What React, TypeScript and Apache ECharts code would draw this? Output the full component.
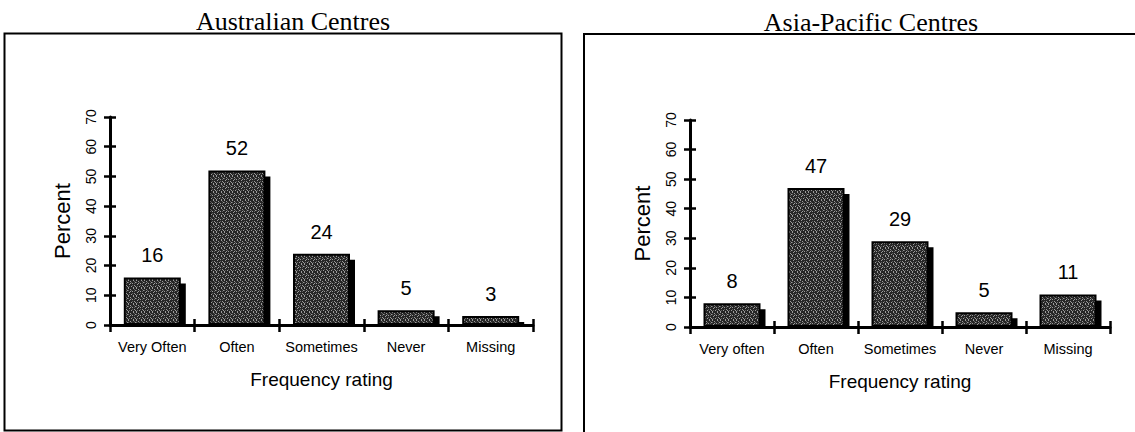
import React, { useEffect, useRef } from "react";
import * as echarts from "echarts";

const categoriesAU = ["Very Often", "Often", "Sometimes", "Never", "Missing"];
const valuesAU = [16, 52, 24, 5, 3];
const categoriesAP = ["Very often", "Often", "Sometimes", "Never", "Missing"];
const valuesAP = [8, 47, 29, 5, 11];
const titles = ["Australian Centres", "Asia-Pacific Centres"];
const yMin = 0;
const yMax = 70;
const yInterval = 10;
const yName = "Percent";
const xName = "Frequency rating";

const SANS = "'Liberation Sans', Arial, sans-serif";
const SERIF = "'Liberation Serif', 'Times New Roman', serif";

function makeStipple(): HTMLCanvasElement {
  const c = document.createElement("canvas");
  c.width = 8;
  c.height = 8;
  const ctx = c.getContext("2d")!;
  ctx.fillStyle = "#262626";
  ctx.fillRect(0, 0, 8, 8);
  ctx.fillStyle = "#9c9c9c";
  const dots = [
    [0, 0], [5, 0], [2, 1], [7, 2], [4, 3], [1, 4], [6, 5], [3, 6], [0, 7], [5, 7], [2, 3], [7, 6],
  ];
  dots.forEach(([x, y]) => ctx.fillRect(x, y, 1, 1));
  ctx.fillStyle = "#5e5e5e";
  const mids = [[3, 2], [6, 1], [1, 6], [4, 5], [0, 2], [6, 3]];
  mids.forEach(([x, y]) => ctx.fillRect(x, y, 1, 1));
  return c;
}

export default function App() {
  const ref = useRef<HTMLDivElement>(null);
  useEffect(() => {
    if (!ref.current) return;
    const chart = echarts.init(ref.current, null, { renderer: "svg" });
    const stipple = makeStipple();
    const grids = [
      { left: 110, top: 117, width: 423, height: 208 },
      { left: 690, top: 120, width: 420, height: 207 },
    ];
    const cats = [categoriesAU, categoriesAP];
    const vals = [valuesAU, valuesAP];

    const xAxes: any[] = [];
    const yAxes: any[] = [];
    const series: any[] = [];
    const graphics: any[] = [
      {
        type: "rect",
        shape: { x: 4.5, y: 33.5, width: 557, height: 397 },
        style: { fill: "none", stroke: "#000", lineWidth: 2 },
        z: 1,
      },
      {
        type: "rect",
        shape: { x: 584, y: 34, width: 600, height: 420 },
        style: { fill: "none", stroke: "#000", lineWidth: 2 },
        z: 1,
      },
    ];

    grids.forEach((g, i) => {
      xAxes.push({
        type: "category",
        gridIndex: i,
        position: "bottom",
        data: cats[i],
        z: 3,
        axisLine: { show: true, onZero: false, lineStyle: { color: "#000", width: 3 } },
        axisTick: { show: true, length: 7, lineStyle: { color: "#000", width: 2.5 } },
        axisLabel: { color: "#000", fontSize: 14.5, fontFamily: SANS, margin: 14, interval: 0 },
        name: xName,
        nameLocation: "middle",
        nameGap: 45,
        nameTextStyle: { color: "#000", fontSize: 19, fontFamily: SANS },
      });
      xAxes.push({
        type: "category",
        gridIndex: i,
        position: "bottom",
        data: cats[i],
        z: 3,
        axisLine: { show: false, onZero: false },
        axisTick: { show: true, inside: true, length: 6, lineStyle: { color: "#000", width: 2.5 } },
        axisLabel: { show: false },
      });
      yAxes.push({
        type: "value",
        gridIndex: i,
        position: "left",
        min: yMin,
        max: yMax,
        interval: yInterval,
        z: 3,
        splitLine: { show: false },
        axisLine: { show: true, onZero: false, lineStyle: { color: "#000", width: 3 } },
        axisTick: { show: true, length: 6, lineStyle: { color: "#000", width: 2.5 } },
        axisLabel: {
          color: "#000",
          fontSize: 14,
          fontFamily: SANS,
          rotate: 90,
          margin: 12,
        },
        name: yName,
        nameLocation: "middle",
        nameGap: 37,
        nameTextStyle: { color: "#000", fontSize: 22, fontFamily: SANS },
      });
      yAxes.push({
        type: "value",
        gridIndex: i,
        position: "left",
        min: yMin,
        max: yMax,
        interval: yInterval,
        z: 3,
        splitLine: { show: false },
        axisLine: { show: false, onZero: false },
        axisTick: { show: true, inside: true, length: 6, lineStyle: { color: "#000", width: 2.5 } },
        axisLabel: { show: false },
      });
      series.push({
        type: "bar",
        xAxisIndex: i * 2,
        yAxisIndex: i * 2,
        data: vals[i],
        barWidth: 57,
        z: 2,
        itemStyle: {
          color: { image: stipple, repeat: "repeat" },
          borderColor: "#000",
          borderWidth: 2,
          shadowColor: "#000",
          shadowBlur: 0,
          shadowOffsetX: 5,
          shadowOffsetY: 6,
        },
        label: {
          show: true,
          position: "top",
          distance: 12,
          color: "#000",
          fontSize: 20,
          fontFamily: SANS,
        },
      });
      graphics.push({
        type: "rect",
        shape: { x: g.left + 2, y: g.top + g.height + 1.5, width: g.width, height: 9 },
        style: { fill: "#fff" },
        z: 2.5,
      });
    });

    chart.setOption({
      animation: false,
      title: [
        {
          text: titles[0],
          left: 288,
          top: 3,
          textAlign: "center",
          textStyle: { fontFamily: SERIF, fontSize: 26, fontWeight: "normal", color: "#000" },
        },
        {
          text: titles[1],
          left: 866,
          top: 4,
          textAlign: "center",
          textStyle: { fontFamily: SERIF, fontSize: 26, fontWeight: "normal", color: "#000" },
        },
      ],
      grid: grids,
      xAxis: xAxes,
      yAxis: yAxes,
      series,
      graphic: graphics,
    });
    return () => chart.dispose();
  }, []);
  return (
    <div
      ref={ref}
      style={{ position: "fixed", left: 0, top: 0, width: 1135, height: 432, background: "#fff" }}
    />
  );
}
